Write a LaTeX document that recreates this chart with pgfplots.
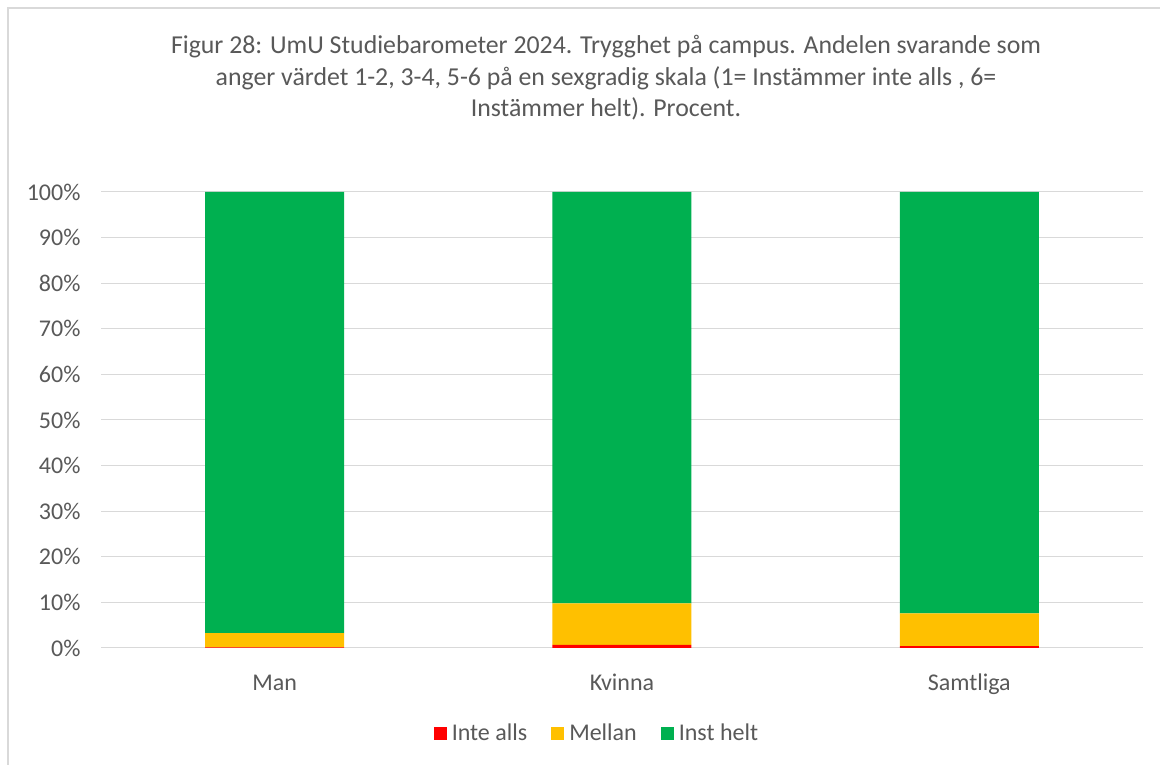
\documentclass[border=0pt]{standalone}
\usepackage{pgfplots}
\pgfplotsset{compat=1.18}
\usepackage{fontspec}
\setmainfont{Carlito}
\definecolor{txt}{HTML}{595959}
\definecolor{grd}{HTML}{D9D9D9}
\definecolor{cred}{HTML}{FF0000}
\definecolor{cyel}{HTML}{FFC000}
\definecolor{cgrn}{HTML}{00B050}
\begin{document}
\begin{tikzpicture}
\useasboundingbox (0pt,0pt) rectangle (1160pt,765pt);
\fill[white] (0pt,0pt) rectangle (1160pt,765pt);
\draw[grd,line width=1.5pt] (8pt,0pt) -- (8pt,757pt) -- (1160pt,757pt);
\node[align=center,text=txt,font=\fontsize{25.8}{31.5}\selectfont] at (606pt,687pt) {Figur 28: UmU Studiebarometer 2024. Trygghet på campus. Andelen svarande som\\anger värdet 1-2, 3-4, 5-6 på en sexgradig skala (1= Instämmer inte alls , 6=\\Instämmer helt). Procent.};
\begin{axis}[
  at={(101pt,117pt)}, anchor=south west,
  scale only axis, width=1042pt, height=456pt,
  ybar stacked, bar width=139pt,
  xmin=-0.5, xmax=2.5, ymin=0, ymax=100,
  xtick={0,1,2}, xticklabels={Man,Kvinna,Samtliga},
  ytick={0,10,...,100},
  yticklabel={\pgfmathprintnumber{\tick}\%},
  /pgf/number format/assume math mode=true,
  ymajorgrids, grid style={grd,line width=1pt},
  axis x line*=bottom, axis y line*=left,
  x axis line style={grd,line width=1pt},
  y axis line style={draw=none},
  major tick length=0pt,
  tick label style={text=txt,font=\fontsize{24}{28}\selectfont},
  xticklabel style={yshift=-22pt,text height=17pt,text depth=5pt},
  yticklabel style={xshift=-17pt},
  legend style={at={(0.476,-0.158)},anchor=north,draw=none,legend columns=-1,
    font=\fontsize{24}{28}\selectfont,text=txt,
    /tikz/every odd column/.append style={column sep=3pt},
    /tikz/every even column/.append style={column sep=22pt}},
  legend image code/.code={\fill[#1] (0pt,-6.5pt) rectangle (13pt,6.5pt);},
]
\addplot[fill=cred,draw=none] coordinates {(0,0.15) (1,0.7) (2,0.4)};
\addplot[fill=cyel,draw=none] coordinates {(0,3.1) (1,9.1) (2,7.2)};
\addplot[fill=cgrn,draw=none] coordinates {(0,96.75) (1,90.2) (2,92.4)};
\legend{Inte alls,Mellan,Inst helt}
\end{axis}
\end{tikzpicture}
\end{document}
